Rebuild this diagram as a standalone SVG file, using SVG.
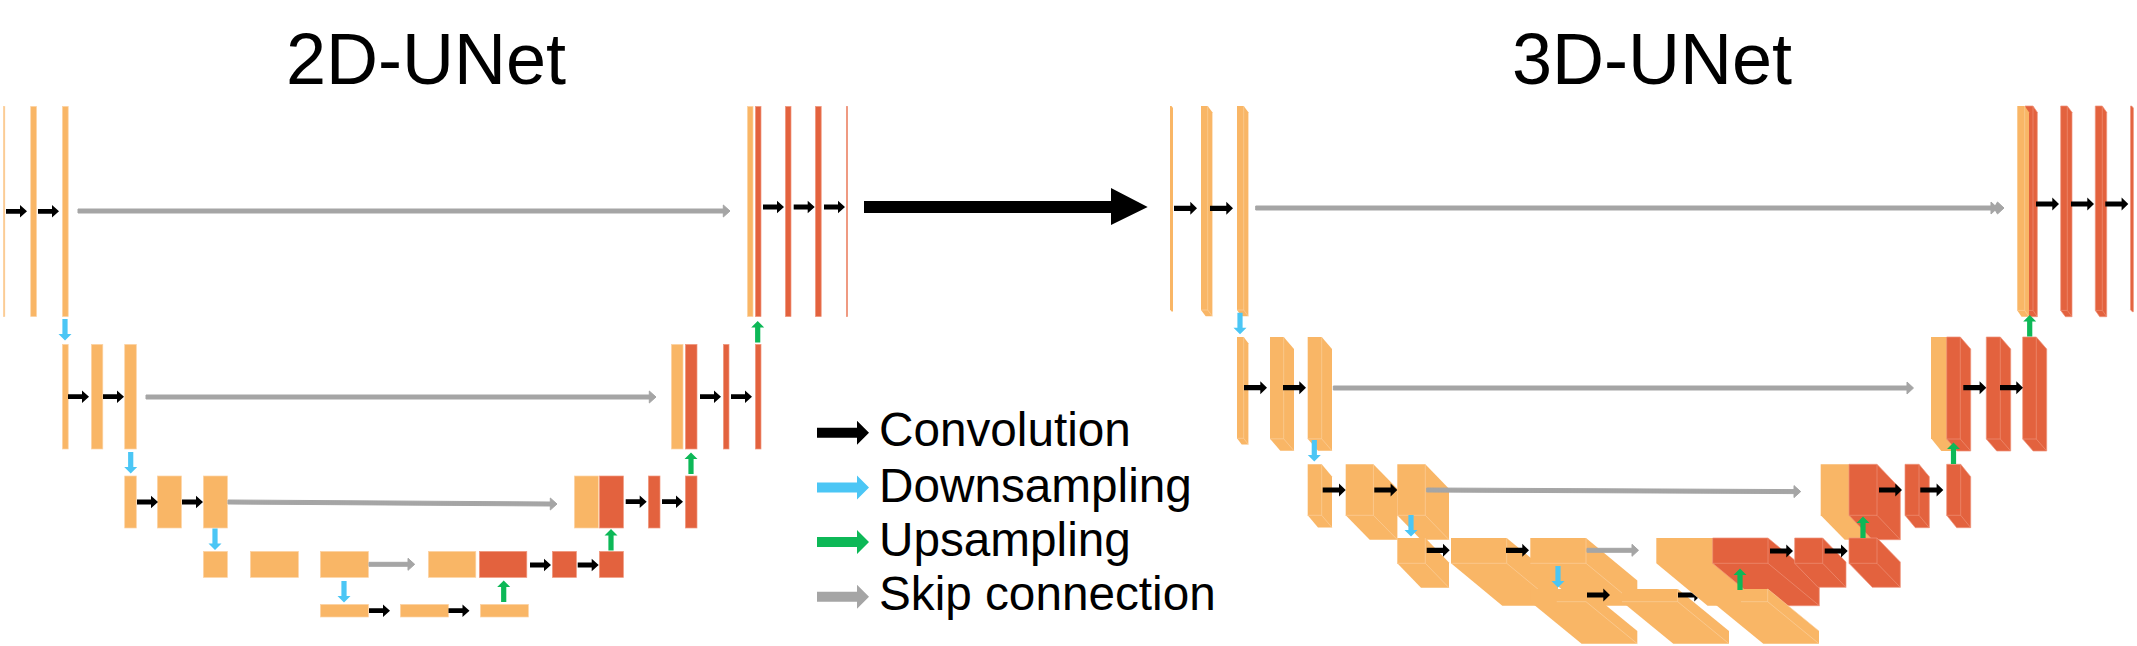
<svg xmlns="http://www.w3.org/2000/svg" width="2137" height="646" viewBox="0 0 2137 646">
<style>
text{font-family:"Liberation Sans",Arial,sans-serif;fill:#000}
.t{font-size:72px}
.l{font-size:47.7px}
.o{fill:#F9B666}
.r{fill:#E3623E}
.s3{fill:#E3623E;stroke:#EF947B;stroke-width:.7}
.fo{fill:#F9B666;stroke:#FCD3A5;stroke-width:.7}
.fr{fill:#E3623E;stroke:#F0987F;stroke-width:.7}
.e{fill:none;stroke:#FCD3A5;stroke-width:.6}
.f{fill:none;stroke:#F0987F;stroke-width:.6}
.k{fill:#000}
.b{fill:#4BC6F5}
.g{fill:#0DB857}
.y{fill:#A5A5A5}
.sk{stroke:#A5A5A5;stroke-width:1}
</style>
<defs>
<path id="k21" d="M0-2.4H14V-6.3L21 0 14 6.3V2.4H0z"/>
<path id="k23" d="M0-2.6H16.3V-6.5L23 0 16.3 6.5V2.6H0z"/>
<path id="v" d="M-2.6 0H2.6V15H6.5L0 21.5-6.5 15H-2.6z"/>
<path id="lg" d="M0-5H40V-12L52 0 40 12V5H0z"/>
<clipPath id="cut"><path d="M1650 558L1710 608 1650 620z"/></clipPath>
</defs>

<g id="title-2d"><text class="t" x="286" y="84">2D-UNet</text></g>
<g id="title-3d"><text class="t" x="1512" y="84">3D-UNet</text></g>

<g id="u2d-enc1-a"><rect class="fo" x="3.4" y="106.4" width="1.4" height="210.2"/></g>
<g id="u2d-enc1-b"><rect class="fo" x="30.7" y="106.4" width="5.8" height="210.2"/></g>
<g id="u2d-enc1-c"><rect class="fo" x="62.4" y="106.4" width="5.8" height="210.2"/></g>
<g id="u2d-enc2-a"><rect class="fo" x="62.4" y="344.4" width="5.8" height="104.6"/></g>
<g id="u2d-enc2-b"><rect class="fo" x="91.4" y="344.4" width="11.4" height="104.6"/></g>
<g id="u2d-enc2-c"><rect class="fo" x="124.7" y="344.4" width="11.6" height="104.6"/></g>
<g id="u2d-enc3-a"><rect class="fo" x="124.7" y="476" width="11.6" height="52"/></g>
<g id="u2d-enc3-b"><rect class="fo" x="157.4" y="476" width="24" height="52"/></g>
<g id="u2d-enc3-c"><rect class="fo" x="203.4" y="476" width="24" height="52"/></g>
<g id="u2d-enc4-a"><rect class="fo" x="203.4" y="551.4" width="24" height="26"/></g>
<g id="u2d-enc4-b"><rect class="fo" x="250.4" y="551.4" width="48" height="26"/></g>
<g id="u2d-enc4-c"><rect class="fo" x="320.4" y="551.4" width="48" height="26"/></g>
<g id="u2d-bot-a"><rect class="fo" x="320.4" y="604.4" width="48" height="12.6"/></g>
<g id="u2d-bot-b"><rect class="fo" x="400.4" y="604.4" width="48" height="12.6"/></g>
<g id="u2d-bot-c"><rect class="fo" x="480.4" y="604.4" width="48" height="12.6"/></g>
<g id="u2d-dec4-o"><rect class="fo" x="428.4" y="551.4" width="47.4" height="26"/></g>
<g id="u2d-dec4-a"><rect class="fr" x="479.4" y="551.4" width="47.4" height="26"/></g>
<g id="u2d-dec4-b"><rect class="fr" x="552.4" y="551.4" width="24" height="26"/></g>
<g id="u2d-dec4-c"><rect class="fr" x="599.4" y="551.4" width="24" height="26"/></g>
<g id="u2d-dec3-o"><rect class="fo" x="574.4" y="476" width="24" height="52"/></g>
<g id="u2d-dec3-a"><rect class="fr" x="599.4" y="476" width="24" height="52"/></g>
<g id="u2d-dec3-b"><rect class="fr" x="648.4" y="476" width="11.6" height="52"/></g>
<g id="u2d-dec3-c"><rect class="fr" x="685.4" y="476" width="11.6" height="52"/></g>
<g id="u2d-dec2-o"><rect class="fo" x="671.4" y="344.4" width="11.6" height="104.6"/></g>
<g id="u2d-dec2-a"><rect class="fr" x="685.4" y="344.4" width="11.6" height="104.6"/></g>
<g id="u2d-dec2-b"><rect class="fr" x="723.4" y="344.4" width="5.6" height="104.6"/></g>
<g id="u2d-dec2-c"><rect class="fr" x="755.4" y="344.4" width="5.6" height="104.6"/></g>
<g id="u2d-dec1-o"><rect class="fo" x="747.4" y="106.4" width="5.6" height="210.2"/></g>
<g id="u2d-dec1-a"><rect class="fr" x="755.4" y="106.4" width="5.6" height="210.2"/></g>
<g id="u2d-dec1-b"><rect class="fr" x="785.4" y="106.4" width="5.6" height="210.2"/></g>
<g id="u2d-dec1-c"><rect class="fr" x="815.4" y="106.4" width="5.8" height="210.2"/></g>
<g id="u2d-dec1-d"><rect class="fr" x="846.4" y="106.4" width="1.2" height="210.2"/></g>

<g id="u3d-enc1-a"><path class="o" d="M1170 106h1.5l1.5 2v203.6h-1.5l-1.5-2z"/></g>
<g id="u3d-enc1-b"><path class="o" d="M1201 106h6.7l4.7 6.3v204h-6.7l-4.7-6.3z"/><path class="e" d="M1207.7 106v204h-6.7m6.7 0l4.7 6.3"/></g>
<g id="u3d-enc1-c"><path class="o" d="M1237 106h6.7l4.7 6.3v204h-6.7l-4.7-6.3z"/><path class="e" d="M1243.7 106v204h-6.7m6.7 0l4.7 6.3"/></g>
<g id="u3d-enc2-a"><path class="o" d="M1237 337h6.7l4.7 6.3v101.3h-6.7l-4.7-6.3z"/><path class="e" d="M1243.7 337v101.3h-6.7m6.7 0l4.7 6.3"/></g>
<g id="u3d-enc2-b"><path class="o" d="M1270 337h13.7l10.3 12v101.8h-13.7l-10.3-12z"/><path class="e" d="M1283.7 337v101.8h-13.7m13.7 0l10.3 12"/></g>
<g id="u3d-enc2-c"><path class="o" d="M1307.7 337h14l10.3 12v101.8h-14l-10.3-12z"/><path class="e" d="M1321.7 337v101.8h-14m14 0l10.3 12"/></g>
<g id="u3d-enc3-a"><path class="o" d="M1307.7 464.3h14l10.3 12.3v51h-14l-10.3-12.3z"/><path class="e" d="M1321.7 464.3v51h-14m14 0l10.3 12.3"/></g>
<g id="u3d-enc3-b"><path class="o" d="M1345.7 464.3h27.7l24 24.4v51h-27.7l-24-24.4z"/><path class="e" d="M1373.4 464.3v51h-27.7m27.7 0l24 24.4"/></g>
<g id="u3d-enc3-c"><path class="o" d="M1397.3 464.3h28l23.7 24.4v51h-28l-23.7-24.4z"/><path class="e" d="M1425.3 464.3v51h-28m28 0l23.7 24.4"/></g>
<g id="u3d-enc4-a"><path class="o" d="M1397.3 538h28l23.7 24.4v25.3h-28l-23.7-24.4z"/><path class="e" d="M1425.3 538v25.3h-28m28 0l23.7 24.4"/></g>
<g id="u3d-enc4-b"><path class="o" d="M1451 538h55.7l51.3 42.4v25.3h-55.7l-51.3-42.4z"/><path class="e" d="M1506.7 538v25.3h-55.7m55.7 0l51.3 42.4"/></g>
<g id="u3d-enc4-c"><path class="o" d="M1530.3 538h55.7l51.3 42.4v25.3h-55.7l-51.3-42.4z"/><path class="e" d="M1586 538v25.3h-55.7m55.7 0l51.3 42.4"/></g>
<g id="u3d-bot-a"><path class="o" d="M1530.3 589h55.7l51.3 42v12.7h-55.7l-51.3-42z"/><path class="e" d="M1556.7 601.7H1586l51.3 42"/></g>
<g id="u3d-bot-b"><path class="o" d="M1622 589h55.7l51.3 42v12.7h-55.7l-51.3-42z"/><path class="e" d="M1622 601.7h55.7v-12.7m0 12.7l51.3 42"/></g>
<g id="u3d-dec1-a"><path class="s3" d="M2025 106h8l4.3 6.3v204.4h-8l-4.3-6.3z"/><path class="f" d="M2033 106v204.4h-8m8 0l4.3 6.3"/></g>
<g id="u3d-dec1-o"><path class="o" d="M2017.3 106h7.4l4.3 6.3v204.4h-7.4l-4.3-6.3z"/><path class="e" d="M2024.7 106v204.4h-7.4m7.4 0l4.3 6.3"/></g>
<g id="u3d-dec1-b"><path class="s3" d="M2060.7 106h6.6l4.7 6.3v204.4h-6.6l-4.7-6.3z"/><path class="f" d="M2067.3 106v204.4h-6.6m6.6 0l4.7 6.3"/></g>
<g id="u3d-dec1-c"><path class="s3" d="M2095.3 106h7l4.4 6.3v204.4h-7l-4.4-6.3z"/><path class="f" d="M2102.3 106v204.4h-7m7 0l4.4 6.3"/></g>
<g id="u3d-dec1-d"><path class="s3" d="M2130.5 106h1.2l1.7 2v203.7h-1.2l-1.7-2z"/></g>
<g id="u3d-dec2-o"><path class="o" d="M1931 337h15.7l10.3 12.7v101.3h-15.7l-10.3-12.7z"/></g>
<g id="u3d-dec2-a"><path class="s3" d="M1946.7 337h13.6l10.4 12v102h-13.6l-10.4-12z"/><path class="f" d="M1960.3 337v102h-13.6m13.6 0l10.4 12"/></g>
<g id="u3d-dec2-b"><path class="s3" d="M1986.3 337h14l10.4 12v102h-14l-10.4-12z"/><path class="f" d="M2000.3 337v102h-14m14 0l10.4 12"/></g>
<g id="u3d-dec2-c"><path class="s3" d="M2022.7 337h13.6l10.4 12v102h-13.6l-10.4-12z"/><path class="f" d="M2036.3 337v102h-13.6m13.6 0l10.4 12"/></g>
<g id="u3d-dec3-o"><path class="o" d="M1820.7 464.3h28.3l24 24.4v51h-28.3l-24-24.4z"/></g>
<g id="u3d-dec3-a"><path class="s3" d="M1849 464.3h28l23.3 24.4v51h-28l-23.3-24.4z"/><path class="f" d="M1877 464.3v51h-28m28 0l23.3 24.4"/></g>
<g id="u3d-dec3-b"><path class="s3" d="M1905 464.3h14l10.3 12.4v51h-14l-10.3-12.4z"/><path class="f" d="M1919 464.3v51h-14m14 0l10.3 12.4"/></g>
<g id="u3d-dec3-c"><path class="s3" d="M1946.7 464.3h14l10 12.4v51h-14l-10-12.4z"/><path class="f" d="M1960.7 464.3v51h-14m14 0l10 12.4"/></g>
<g id="u3d-dec4-o"><path class="o" d="M1656.3 538h56.4l51.3 42.4v25.3h-56.4l-51.3-42.4z"/></g>
<g id="u3d-dec4-a"><path class="s3" d="M1712.7 538h55.3l51.3 42.4v25.3h-55.3l-51.3-42.4z"/><path class="f" d="M1768 538v25.3h-55.3m55.3 0l51.3 42.4"/></g>
<g id="u3d-dec4-b"><path class="s3" d="M1794.7 538h28l23.3 24v25.3h-28l-23.3-24z"/><path class="f" d="M1822.7 538v25.3h-28m28 0l23.3 24"/></g>
<g id="u3d-dec4-c"><path class="s3" d="M1849 538h28l23.3 24v25.3h-28l-23.3-24z"/><path class="f" d="M1877 538v25.3h-28m28 0l23.3 24"/></g>
<g id="u3d-bot-c"><path class="o" d="M1712 589h55.7l51.3 42v12.7h-55.7l-51.3-42z"/><path class="e" d="M1741 601.7h26.7v-12.7m0 12.7l51.3 42m-51.3-54.7l51.3 42"/></g>

<g id="connectors">
<g class="k">
<use href="#k21" x="6" y="211.3"/><use href="#k21" x="38" y="211.3"/>
<use href="#k21" x="68" y="396.7"/><use href="#k21" x="103" y="396.7"/>
<use href="#k21" x="137" y="502"/><use href="#k21" x="182" y="502"/>
<use href="#k21" x="369" y="610.7"/><use href="#k21" x="448.5" y="610.7"/>
<use href="#k21" x="530" y="565"/><use href="#k21" x="577.7" y="565"/>
<use href="#k21" x="625.7" y="501.7"/><use href="#k21" x="662" y="501.7"/>
<use href="#k21" x="700" y="396.7"/><use href="#k21" x="731" y="396.7"/>
<use href="#k21" x="763" y="207"/><use href="#k21" x="793.7" y="207"/><use href="#k21" x="824" y="207"/>
<use href="#k23" x="1174" y="208.3"/><use href="#k23" x="1210" y="208.3"/>
<use href="#k23" x="1244" y="387.7"/><use href="#k23" x="1283" y="387.7"/>
<use href="#k23" x="1322.7" y="490"/><use href="#k23" x="1374.3" y="490"/>
<use href="#k23" x="1426.7" y="550.3"/><use href="#k23" x="1506" y="550.3"/>
<use href="#k23" x="1587" y="595"/>
<g clip-path="url(#cut)"><use href="#k23" x="1678" y="595"/></g>
<use href="#k23" x="1770" y="551"/><use href="#k23" x="1824.7" y="551"/>
<use href="#k23" x="1879" y="490"/><use href="#k23" x="1920.3" y="490"/>
<use href="#k23" x="1963.3" y="387.7"/><use href="#k23" x="2000" y="387.7"/>
<use href="#k23" x="2036" y="204"/><use href="#k23" x="2071" y="204"/><use href="#k23" x="2105.3" y="204"/>
</g>
<g class="b">
<use href="#v" transform="translate(65 319)"/>
<use href="#v" transform="translate(130.7 452)"/>
<use href="#v" transform="translate(215 528.5)"/>
<use href="#v" transform="translate(344 581)"/>
<use href="#v" transform="translate(1240 312.7)"/>
<use href="#v" transform="translate(1314.3 440)"/>
<use href="#v" transform="translate(1411 515)"/>
<use href="#v" transform="translate(1558 566)"/>
</g>
<g class="g">
<use href="#v" transform="translate(503.7 602) rotate(180)"/>
<use href="#v" transform="translate(611 550.5) rotate(180)"/>
<use href="#v" transform="translate(691 474) rotate(180)"/>
<use href="#v" transform="translate(757.7 342.5) rotate(180)"/>
<use href="#v" transform="translate(1740 590) rotate(180)"/>
<use href="#v" transform="translate(1863 538) rotate(180)"/>
<use href="#v" transform="translate(1953.5 464) rotate(180)"/>
<use href="#v" transform="translate(2029.7 336.5) rotate(180)"/>
</g>
<g class="y sk">
<path d="M78 209H723.3V205L730 211 723.3 217V213H78z"/>
<path d="M146 395H649.3V391L656 397 649.3 403V399H146z"/>
<path d="M228 500L550.3 502V498L557 504 550.3 510V506L228 504z"/>
<path d="M369 562.3H408V558.3L414.7 564.3 408 570.3V566.3H369z"/>
<path d="M1255.7 206H1991V202L1997.5 208 1991 214V210H1255.7z"/>
<path d="M1997.5 202L2004 208 1997.5 214 1994 208z"/>
<path d="M1333.3 386H1907V382L1913.5 388 1907 394V390H1333.3z"/>
<path d="M1426.7 488L1794 489.6V485.6L1800.7 491.6 1794 497.6V493.6L1426.7 492z"/>
<path d="M1587 548.3H1632V544.3L1638.5 550.3 1632 556.3V552.3H1587z"/>
</g>
<path id="main-arrow" class="k" d="M864 201H1111V188L1147.7 207 1111 225V213H864z"/>
</g>

<g id="legend">
<g id="legend-conv"><use href="#lg" class="k" x="817" y="432.7"/><text class="l" x="879" y="446">Convolution</text></g>
<g id="legend-down"><use href="#lg" class="b" x="817" y="487.5"/><text class="l" x="879" y="501.7">Downsampling</text></g>
<g id="legend-up"><use href="#lg" class="g" x="817" y="542"/><text class="l" x="879" y="555.5">Upsampling</text></g>
<g id="legend-skip"><use href="#lg" class="y" x="817" y="596.7"/><text class="l" x="879" y="610">Skip connection</text></g>
</g>
</svg>
